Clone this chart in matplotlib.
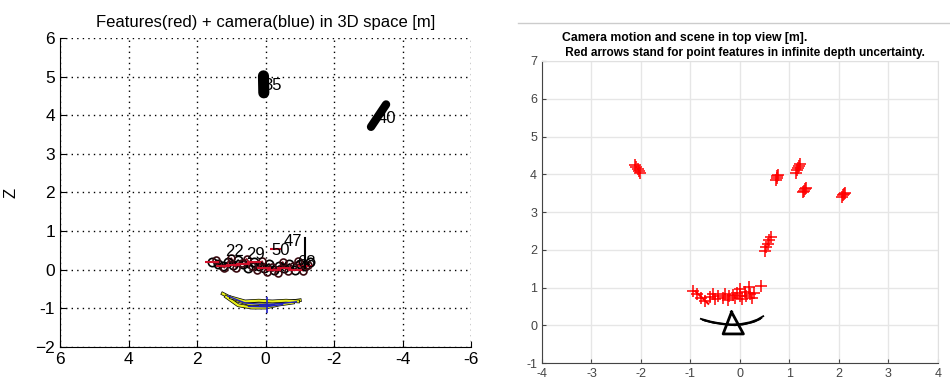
import matplotlib
matplotlib.use('Agg')
import matplotlib.pyplot as plt
from matplotlib.lines import Line2D

plt.rcParams['font.family'] = ['Liberation Sans', 'DejaVu Sans']

# ---- left panel: 3D view (X reversed, Z up) ----
blob35_x = [0.05, 0.06]
blob35_y = [4.58, 5.02]
blob40_x = [-3.08, -3.52]
blob40_y = [3.70, 4.28]
near_x = [1.55, 1.4, 1.25, 1.1, 0.95, 0.8, 0.65, 0.5, 0.35, 0.2, 0.05, -0.1,
          -0.25, -0.4, -0.55, -0.7, -0.85, -1.0, -1.15, -1.3]
near_y = [0.2, 0.15, 0.1, 0.2, 0.12, 0.25, 0.15, 0.05, 0.2, 0.1, 0.05, 0.15,
          0.0, 0.1, 0.05, 0.15, 0.0, 0.15, 0.1, 0.2]
near2_x = [1.45, 1.2, 1.0, 0.85, 0.7, 0.55, 0.4, 0.25, 0.1, -0.05, -0.2,
           -0.35, -0.5, -0.65, -0.8, -0.95, -1.1, -1.25]
near2_y = [0.25, 0.05, 0.3, 0.05, 0.18, 0.28, 0.1, 0.0, 0.22, -0.05, 0.08,
           -0.08, 0.2, -0.02, 0.1, 0.22, -0.03, 0.12]
label_txt = ['35', '40', '22', '29', '50', '47', '68']
label_x = [-0.2, -3.55, 0.9, 0.3, -0.45, -0.8, -1.2]
label_y = [4.78, 3.92, 0.48, 0.4, 0.5, 0.72, 0.2]
yel_x = [[1.25, 0.9, 0.5, 0.0, -0.5, -1.0],
         [1.15, 0.8, 0.4, 0.0, -0.4, -0.8],
         [1.0, 0.6, 0.2, -0.2, -0.6, -0.95]]
yel_y = [[-0.62, -0.78, -0.88, -0.9, -0.85, -0.79],
         [-0.7, -0.92, -0.98, -0.98, -0.9, -0.85],
         [-0.72, -0.82, -0.8, -0.82, -0.8, -0.82]]
blue_x = [[1.1, 0.6, 0.1, -0.4, -0.9], [0.5, 0.0, -0.5]]
blue_y = [[-0.68, -0.86, -0.9, -0.88, -0.83], [-0.95, -0.96, -0.9]]
cam_x, cam_y = -0.04, -0.92

# ---- right panel: top view ----
feat_x = [-2.13, -2.10, -2.07, -2.04, -2.01,
          0.73, 0.74, 0.75, 0.76,
          1.14, 1.16, 1.18, 1.20, 1.21,
          1.28, 1.30, 1.32, 1.34,
          2.06, 2.08, 2.10, 2.12,
          0.50, 0.53, 0.56, 0.59, 0.62,
          -0.95, -0.86, -0.78, -0.70, -0.60, -0.55, -0.50, -0.45, -0.35, -0.30,
          -0.25, -0.22, -0.15, -0.10, -0.05, 0.0, 0.0, 0.05, 0.10, 0.12, 0.18,
          0.20, 0.25, 0.28, 0.42]
feat_y = [4.24, 4.19, 4.14, 4.08, 4.03,
          3.84, 3.90, 3.95, 3.99,
          4.04, 4.10, 4.16, 4.22, 4.27,
          3.52, 3.56, 3.60, 3.64,
          3.41, 3.45, 3.48, 3.51,
          1.96, 2.06, 2.16, 2.26, 2.34,
          0.92, 0.82, 0.72, 0.64, 0.75, 0.82, 0.70, 0.78, 0.72, 0.82,
          0.68, 0.77, 0.80, 0.72, 0.85, 0.78, 0.95, 0.70, 0.88, 0.78, 1.02,
          0.82, 0.72, 0.85, 1.05]
traj_x = [[-0.79, -0.6, -0.4, -0.2, 0.0, 0.2, 0.35, 0.47],
          [-0.75, -0.55, -0.3, -0.1, 0.1, 0.3, 0.43],
          [-0.7, -0.5, -0.3, -0.15, 0.05, 0.25, 0.4]]
traj_y = [[0.17, 0.1, 0.05, 0.02, 0.03, 0.08, 0.15, 0.24],
          [0.14, 0.07, 0.02, 0.0, 0.03, 0.1, 0.19],
          [0.12, 0.06, 0.03, 0.01, 0.02, 0.08, 0.16]]
tri_x = [-0.17, -0.34, 0.07, -0.17]
tri_y = [0.35, -0.23, -0.23, 0.35]


fig = plt.figure(figsize=(9.5, 3.77), dpi=100)

# left axes
ax1 = fig.add_axes([0.0632, 0.0796, 0.4326, 0.8196])
ax1.set_xlim(6, -6)
ax1.set_ylim(-2, 6)
ax1.set_xticks([6, 4, 2, 0, -2, -4, -6])
ax1.set_xticklabels(['6', '4', '2', '0', '-2', '-4', '-6'])
ax1.set_yticks(range(-2, 7))
ax1.set_yticklabels(['\u22122', '-1', '0', '1', '2', '3', '4', '5', '6'])
ax1.grid(True, color='k', linestyle=(0, (1, 3)), linewidth=1)
for s in ['top', 'right']:
    ax1.spines[s].set_visible(False)
ax1.tick_params(direction='in', labelsize=12.5, length=4)
ax1.set_title('Features(red) + camera(blue) in 3D space [m]', fontsize=12, pad=8)
ax1.set_ylabel('Z', fontsize=12, labelpad=12)

ax1.plot(blob35_x, blob35_y, color='k', lw=8, solid_capstyle='round')
ax1.plot(blob40_x, blob40_y, color='k', lw=6, solid_capstyle='round')
ax1.plot(near_x, near_y, color='k', lw=1.2)
ax1.plot(near2_x, near2_y, color='#8a1020', lw=1.2)
ax1.plot(near_x, near_y, linestyle='none', marker='o', mfc='none', mec='k', ms=6, mew=1.2)
ax1.plot(near2_x, near2_y, linestyle='none', marker='o', mfc='none', mec='#3a0a10', ms=5, mew=1.2)
ax1.plot(near_x[::2], near_y[::2], linestyle='none', marker='_', color='#d0102a', ms=10, mew=1.5)
ax1.plot([-1.15, -1.15], [0.04, 0.82], color='k', lw=1.5)
ax1.plot([-0.3], [0.55], linestyle='none', marker='_', color='#d0102a', ms=9, mew=1.5)
for t, x, y in zip(label_txt, label_x, label_y):
    ax1.text(x, y, t, fontsize=12, ha='center', va='center', color='k')
for xs, ys in zip(yel_x, yel_y):
    ax1.plot(xs, ys, color='k', lw=2.6)
    ax1.plot(xs, ys, color='#e8ef1c', lw=1.6)
for xs, ys in zip(blue_x, blue_y):
    ax1.plot(xs, ys, color='#2020c8', lw=1)
ax1.plot([cam_x], [cam_y], marker='+', color='#2020c8', ms=12, mew=1.2)

# right axes
ax2 = fig.add_axes([0.5705, 0.0371, 0.4168, 0.8011])
ax2.set_xlim(-4, 4)
ax2.set_ylim(-1, 7)
ax2.set_xticks(range(-4, 5))
ax2.set_yticks(range(-1, 8))
ax2.set_xticklabels([str(v) for v in range(-4, 5)])
ax2.set_yticklabels([str(v) for v in range(-1, 8)])
ax2.grid(True, color='#e6e6e6', linewidth=1)
ax2.set_axisbelow(True)
ax2.tick_params(direction='in', labelsize=9, length=3, colors='#444444')
for s in ['left', 'bottom']:
    ax2.spines[s].set_color('#444444')
for s in ['top', 'right']:
    ax2.spines[s].set_color('#e0e0e0')

ax2.plot(feat_x, feat_y, linestyle='none', marker='+', color='red', ms=8, mew=1.1)
ax2.plot([-0.9, -0.64], [0.9, 0.57], color='red', lw=1.5)
for xs, ys in zip(traj_x, traj_y):
    ax2.plot(xs, ys, color='k', lw=1.3)
ax2.plot(tri_x, tri_y, color='k', lw=2)

fig.text(562 / 950, 1 - 38 / 377, 'Camera motion and scene in top view [m].',
         fontsize=8.8, fontweight='bold', ha='left', va='center')
fig.text(562 / 950, 1 - 53 / 377,
         ' Red arrows stand for point features in infinite depth uncertainty.',
         fontsize=8.5, fontweight='bold', ha='left', va='center')
fig.add_artist(Line2D([518 / 950, 1.0], [1 - 23 / 377, 1 - 23 / 377],
                      color='#cccccc', lw=1))

fig.savefig('out.png', dpi=100)
